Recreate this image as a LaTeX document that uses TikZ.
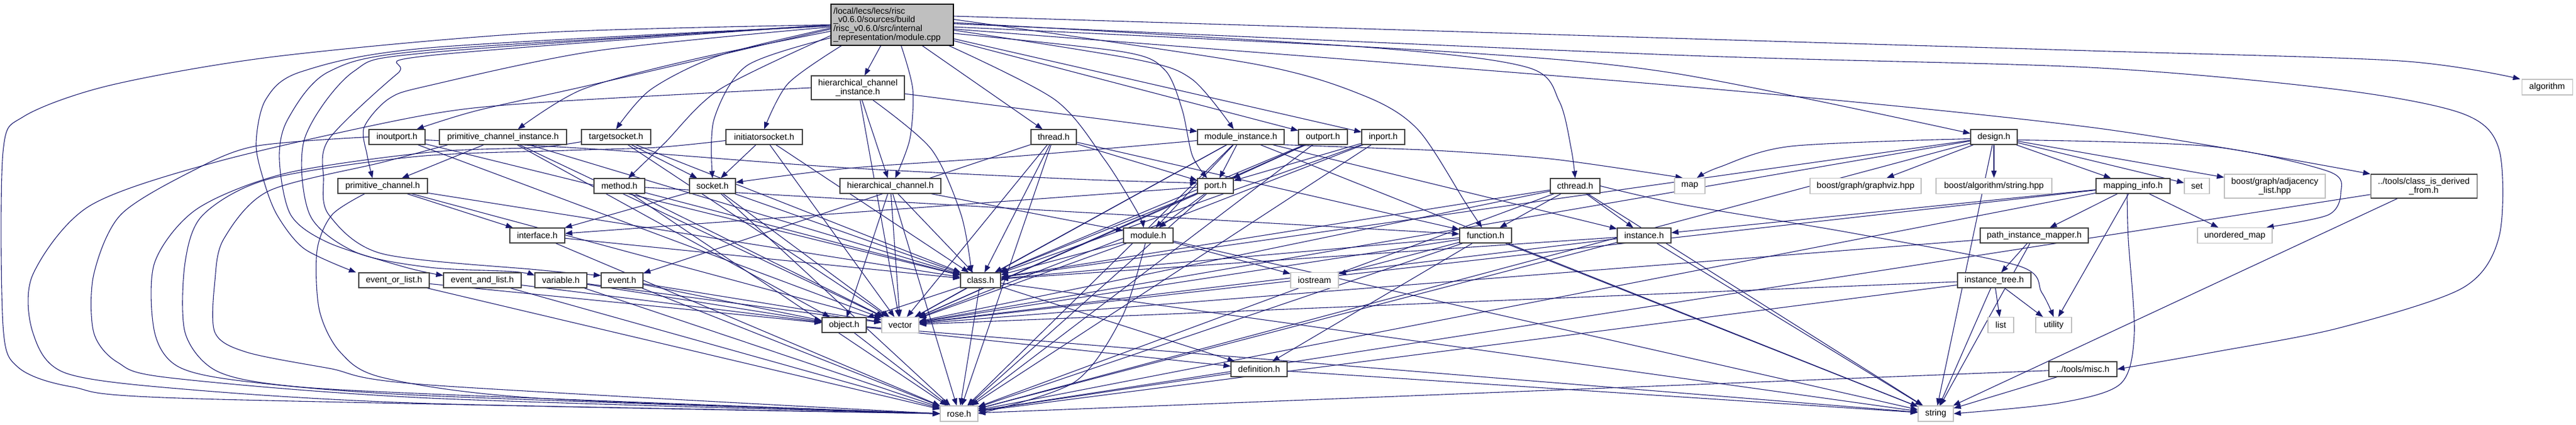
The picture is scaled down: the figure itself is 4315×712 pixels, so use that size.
\documentclass[tikz,border=0pt]{standalone}
\usepackage{fontspec}
\setmainfont{Liberation Sans}
\usetikzlibrary{arrows.meta,backgrounds}
\definecolor{edgecol}{HTML}{191970}
\definecolor{docb}{HTML}{404040}
\definecolor{sysb}{HTML}{BFBFBF}
\definecolor{mainfill}{HTML}{BFBFBF}
\newcommand{\nodefont}{\fontsize{14.5}{14.7}\selectfont}
\newcommand{\edg}[2]{\draw[edge] (#1) -- (#2);}
\begin{document}
\begin{tikzpicture}[x=1pt,y=-1pt,
  doc/.style={draw=docb, fill=white, line width=1.1pt, inner sep=0pt, font=\nodefont, align=center, minimum height=25pt},
  sys/.style={draw=sysb, fill=white, line width=1.1pt, inner sep=0pt, font=\nodefont, align=center, minimum height=26pt},
  mainbox/.style={draw=black, fill=mainfill, line width=1.1pt, inner xsep=4pt, inner ysep=0pt, font=\nodefont, align=left, text width=197pt, minimum height=69pt},
  edge/.style={draw=edgecol, line width=1.1pt, -{Triangle[length=12pt,width=9pt]}},
  bw/.style={minimum width=#1pt}]
\useasboundingbox (0,0) rectangle (4315,712);
% ---------- nodes ----------
\node[mainbox] (main) at (1494.5,41.5) {/local/lecs/lecs/risc\\\_v0.6.0/sources/build\\/risc\_v0.6.0/src/internal\\\_representation/module.cpp};
\node[doc,bw=156,minimum height=40pt] (hcinst) at (1437,147) {hierarchical\_channel\\\_instance.h};
\node[sys,bw=85] (algorithm) at (4266.5,146) {algorithm};
% row 2
\node[doc,bw=94] (inoutport) at (665,229.5) {inoutport.h};
\node[doc,bw=213] (pci) at (842.5,229.5) {primitive\_channel\_instance.h};
\node[doc,bw=116] (targetsocket) at (1032,229.5) {targetsocket.h};
\node[doc,bw=128] (initiatorsocket) at (1280,229.5) {initiatorsocket.h};
\node[doc,bw=76] (thread) at (1765,229.5) {thread.h};
\node[doc,bw=145] (modinst) at (2078.5,229.5) {module\_instance.h};
\node[doc,bw=82] (outport) at (2216,229.5) {outport.h};
\node[doc,bw=72] (inport) at (2317,229.5) {inport.h};
\node[doc,bw=78] (design) at (3340,229.5) {design.h};
% row 3
\node[doc,bw=150] (primchan) at (641,311.5) {primitive\_channel.h};
\node[doc,bw=85] (method) at (1037.5,311.5) {method.h};
\node[doc,bw=77] (socket) at (1193.5,311.5) {socket.h};
\node[doc,bw=169] (hierch) at (1491.5,311.5) {hierarchical\_channel.h};
\node[doc,bw=60] (port) at (2036,311.5) {port.h};
\node[doc,bw=83] (cthread) at (2638.5,311.5) {cthread.h};
\node[sys,bw=51] (map) at (2830.5,311.5) {map};
\node[sys,bw=186] (graphviz) at (3125,311.5) {boost/graph/graphviz.hpp};
\node[sys,bw=194] (algstring) at (3340,311.5) {boost/algorithm/string.hpp};
\node[doc,bw=124] (mapinfo) at (3573,311.5) {mapping\_info.h};
\node[sys,bw=42] (set) at (3680,311.5) {set};
\node[sys,bw=169,minimum height=40pt] (adjlist) at (3810.5,312) {boost/graph/adjacency\\\_list.hpp};
\node[doc,bw=178,minimum height=40pt] (classderived) at (4060,312) {../tools/class\_is\_derived\\\_from.h};
% row 4
\node[doc,bw=92] (interface) at (900,394.5) {interface.h};
\node[doc,bw=83] (module) at (1923.5,394.5) {module.h};
\node[doc,bw=87] (function) at (2488.5,394.5) {function.h};
\node[doc,bw=90] (instance) at (2754,394.5) {instance.h};
\node[doc,bw=181] (pim) at (3407.5,394.5) {path\_instance\_mapper.h};
\node[sys,bw=125] (umap) at (3743.5,394.5) {unordered\_map};
% row 5
\node[doc,bw=118] (eol) at (660,469.5) {event\_or\_list.h};
\node[doc,bw=130] (eal) at (808,469.5) {event\_and\_list.h};
\node[doc,bw=87] (variable) at (939.5,469.5) {variable.h};
\node[doc,bw=70] (event) at (1042,469.5) {event.h};
\node[doc,bw=67] (class) at (1642.5,469.5) {class.h};
\node[sys,bw=80] (iostream) at (2202,469.5) {iostream};
\node[doc,bw=123] (itree) at (3340.5,469.5) {instance\_tree.h};
% row 6
\node[doc,bw=74] (object) at (1414,544.5) {object.h};
\node[sys,bw=62] (vector) at (1508,544.5) {vector};
\node[sys,bw=43] (list) at (3351.5,544.5) {list};
\node[sys,bw=60] (utility) at (3440,544.5) {utility};
% row 7
\node[doc,bw=94] (definition) at (2109,618.5) {definition.h};
\node[doc,bw=114] (misc) at (3489,618.5) {../tools/misc.h};
% row 8
\node[sys,bw=63] (rose) at (1606.5,693) {rose.h};
\node[sys,bw=59] (string) at (3242.5,693) {string};
% ---------- edges ----------
\begin{pgfonlayer}{background}
\fill[white] (0,0) rectangle (4315,712);
\tikzset{every plot/.style={smooth,tension=0.5}}
% main -> ...
\draw[edge] plot coordinates {(main.west) (900,55) (459,95) (184,143) (40,195) (5,255) (5,545) (30,615) (120,648) (330,668) (rose.west)};
\edg{main}{hcinst}
\draw[edge] plot coordinates {([xshift=15pt]main.south) (1529,150) (1524,233) ([xshift=8pt]hierch.north)};
\edg{main}{thread}
\draw[edge] plot coordinates {([xshift=95pt]main.south) (1767,167) (1850,267) (1905,355) ([xshift=-8pt]module.north)};
\draw[edge] plot coordinates {(main.355) (1905,100) (1997,133) ([xshift=-12pt]modinst.north)};
\draw[edge] plot coordinates {(main.352) (1882,87) (1951,117) (1980,183) (1997,260) ([xshift=-14pt]port.north)};
\edg{main}{outport}
\edg{main}{inport}
\draw[edge] plot coordinates {(main.5) (2100,107) (2284,160) (2375,217) (2455,340) ([xshift=-6pt]function.north)};
\draw[edge] plot coordinates {(main.2) (2300,80) (2559,113) (2612,170) (2632,250) (cthread.north)};
\draw[edge] plot coordinates {(main.358) (2400,85) (2800,122) ([yshift=6pt]design.west)};
\draw[edge] plot coordinates {(main.8) (2800,64) (3500,85) (4020,102) ([xshift=-2pt]algorithm.north west)};
\draw[edge] plot coordinates {(main.356) (2800,143) (3500,213) (classderived.north west)};
\draw[edge] plot coordinates {(main.1) (2800,92) (3500,113) (3916,150) (4124,190) (4186,250) (4186,397) (4124,483) (3916,550) (3708,590) (misc.east)};
\draw[edge] plot coordinates {(main.183) (1205,93) (1090,150) (targetsocket.north)};
\draw[edge] plot coordinates {([xshift=-85pt]main.south) (1320,140) (initiatorsocket.north)};
\draw[edge] plot coordinates {(main.192) (1251,110) (1196,200) (socket.north)};
\draw[edge] plot coordinates {(main.190) (1205,150) (1113,240) ([xshift=15pt]method.north)};
\draw[edge] plot coordinates {(main.186) (1159,100) (975,150) ([xshift=25pt]pci.north)};
\draw[edge] plot coordinates {(main.184) (1000,140) (800,185) ([xshift=33pt]inoutport.north)};
\draw[edge] plot coordinates {(main.182) (1000,85) (720,143) (652,165) (610,213) (615,260) ([xshift=-17pt]primchan.north)};
\draw[edge] plot coordinates {(main.181) (720,80) (505,120) (445,167) (429,240) (441,300) (464,360) (510,417) ([xshift=-4pt]eol.north west)};
\draw[edge] plot coordinates {(main.181) (720,84) (551,120) (482,200) (468,267) (487,360) (551,407) (680,448) ([yshift=8pt]eal.west)};
\draw[edge] plot coordinates {(main.180) (720,88) (592,120) (510,233) (519,360) (597,423) (720,448) (860,455) ([yshift=8pt]variable.west)};
\draw[edge] plot coordinates {(main.180) (720,93) (666,123) (551,233) (542,300) (551,360) (640,425) (900,452) ([yshift=8pt]event.west)};
% loops to rose.h on the left
\draw[edge] plot coordinates {(hcinst.west) (900,172) (700,195) (367,270) (150,345) (55,460) (55,557) (110,625) (321,653) (720,676) (rose.west)};
\draw[edge] plot coordinates {(inoutport.west) (427,245) (321,287) (202,360) (157,460) (157,557) (197,607) (285,633) (720,667) (rose.west)};
\draw[edge] plot coordinates {([yshift=-8pt]targetsocket.west) (900,247) (720,255) (480,290) (330,350) (259,440) (259,557) (300,615) (420,640) (720,663) (rose.west)};
\draw[edge] plot coordinates {([yshift=-6pt]initiatorsocket.west) (1100,247) (950,252) (700,262) (450,300) (340,360) (310,440) (310,557) (360,620) (470,645) (720,660) (rose.west)};
\draw[edge] plot coordinates {([xshift=15pt]pci.south west) (640,272) (450,320) (375,400) (360,470) (360,557) (413,590) (551,617) (720,645) (rose.west)};
\draw[edge] plot coordinates {([xshift=-30pt]primchan.south) (556,360) (531,420) (535,520) (570,590) (643,633) (900,667) (rose.west)};
% hierarchical_channel_instance.h
\edg{hcinst}{hierch}
\edg{hcinst}{modinst}
\edg{hcinst}{vector}
\draw[edge] plot coordinates {([xshift=25pt]hcinst.south) (1560,250) (1610,360) ([xshift=-15pt]class.north)};
% inoutport.h
\draw[edge] plot coordinates {([yshift=-5pt]inoutport.east) (1000,250) (1400,280) (1800,300) ([yshift=5pt]port.west)};
\edg{inoutport}{class}
\edg{inoutport}{vector}
% primitive_channel_instance.h
\edg{pci}{primchan}
\edg{pci}{class}
\edg{pci}{vector}
\edg{pci}{object}
% targetsocket.h
\edg{targetsocket}{socket}
\edg{targetsocket}{class}
\edg{targetsocket}{vector}
% initiatorsocket.h
\edg{initiatorsocket}{socket}
\edg{initiatorsocket}{class}
\edg{initiatorsocket}{vector}
% thread.h
\edg{thread}{port}
\edg{thread}{function}
\edg{thread}{event}
\edg{thread}{class}
\edg{thread}{vector}
\edg{thread}{rose}
% module_instance.h
\draw[edge] plot coordinates {([yshift=-6pt]modinst.west) (1700,262) (1420,282) ([yshift=6pt]socket.east)};
\edg{modinst}{port}
\edg{modinst}{module}
\edg{modinst}{instance}
\draw[edge] plot coordinates {(modinst.south east) (2300,248) (2421,253) (2605,267) ([xshift=-12pt]map.north)};
\edg{modinst}{class}
\edg{modinst}{vector}
\edg{modinst}{rose}
\edg{modinst}{string}
% outport.h / inport.h
\edg{outport}{port}
\edg{outport}{class}
\edg{outport}{vector}
\edg{outport}{rose}
\edg{inport}{port}
\edg{inport}{class}
\edg{inport}{vector}
\edg{inport}{rose}
% design.h
\draw[edge] plot coordinates {([yshift=-3pt]design.west) (3000,245) (2880,280) ([xshift=12pt]map.north)};
\edg{design}{graphviz}
\edg{design}{algstring}
\edg{design}{mapinfo}
\edg{design}{set}
\edg{design}{adjlist}
\draw[edge] plot coordinates {([yshift=-5pt]design.east) (3700,245) (3900,287) (3921,323) (3900,360) ([xshift=-10pt]umap.north east)};
\edg{design}{class}
\edg{design}{vector}
\edg{design}{rose}
\edg{design}{string}
% primitive_channel.h
\edg{primchan}{interface}
\edg{primchan}{class}
\edg{primchan}{vector}
% method.h
\edg{method}{function}
\edg{method}{class}
\edg{method}{vector}
\edg{method}{rose}
% socket.h
\edg{socket}{interface}
\edg{socket}{class}
\edg{socket}{vector}
\edg{socket}{rose}
% hierarchical_channel.h
\edg{hierch}{module}
\edg{hierch}{class}
\edg{hierch}{vector}
\edg{hierch}{rose}
\edg{hierch}{object}
% port.h
\edg{port}{module}
\edg{port}{interface}
\edg{port}{class}
\edg{port}{vector}
\edg{port}{rose}
% cthread.h
\edg{cthread}{function}
\edg{cthread}{class}
\edg{cthread}{vector}
\edg{cthread}{rose}
\edg{cthread}{string}
\edg{cthread}{instance}
\draw[edge] plot coordinates {(cthread.east) (2820,343) (3100,390) (3380,445) (3420,490) (utility.north)};
% mapping_info.h
\edg{mapinfo}{instance}
\edg{mapinfo}{pim}
\edg{mapinfo}{umap}
\edg{mapinfo}{vector}
\edg{mapinfo}{rose}
\edg{mapinfo}{utility}
\draw[edge] plot coordinates {([xshift=-10pt]mapinfo.south) (3565,400) (3575,560) (3552,643) (3450,675) (string.east)};
% class_is_derived_from.h
\edg{classderived}{rose}
\edg{classderived}{string}
% interface.h
\edg{interface}{class}
\edg{interface}{rose}
% module.h
\edg{module}{class}
\edg{module}{vector}
\edg{module}{string}
\edg{module}{iostream}
\draw[edge] plot coordinates {([xshift=-5pt]module.south) (1880,530) (1800,640) (rose.east)};
% function.h
\edg{function}{class}
\edg{function}{vector}
\edg{function}{rose}
\edg{function}{string}
\edg{function}{definition}
\edg{function}{iostream}
% instance.h
\edg{instance}{class}
\edg{instance}{vector}
\edg{instance}{rose}
\edg{instance}{string}
% path_instance_mapper.h
\edg{pim}{itree}
\edg{pim}{string}
\edg{pim}{vector}
% events / variable
\edg{eol}{object}
\edg{eol}{rose}
\edg{eal}{object}
\edg{eal}{rose}
\edg{variable}{object}
\edg{variable}{vector}
\edg{variable}{rose}
\edg{event}{object}
\edg{event}{vector}
\edg{event}{rose}
% class.h
\edg{class}{object}
\edg{class}{vector}
\edg{class}{rose}
\edg{class}{definition}
\edg{class}{string}
% instance_tree.h
\edg{itree}{list}
\edg{itree}{utility}
\edg{itree}{string}
\edg{itree}{vector}
\edg{itree}{rose}
% object.h
\edg{object}{definition}
\edg{object}{rose}
\edg{object}{string}
% definition.h, misc.h
\edg{definition}{rose}
\edg{definition}{string}
\edg{misc}{rose}
\edg{misc}{string}
\end{pgfonlayer}
\end{tikzpicture}
\end{document}
